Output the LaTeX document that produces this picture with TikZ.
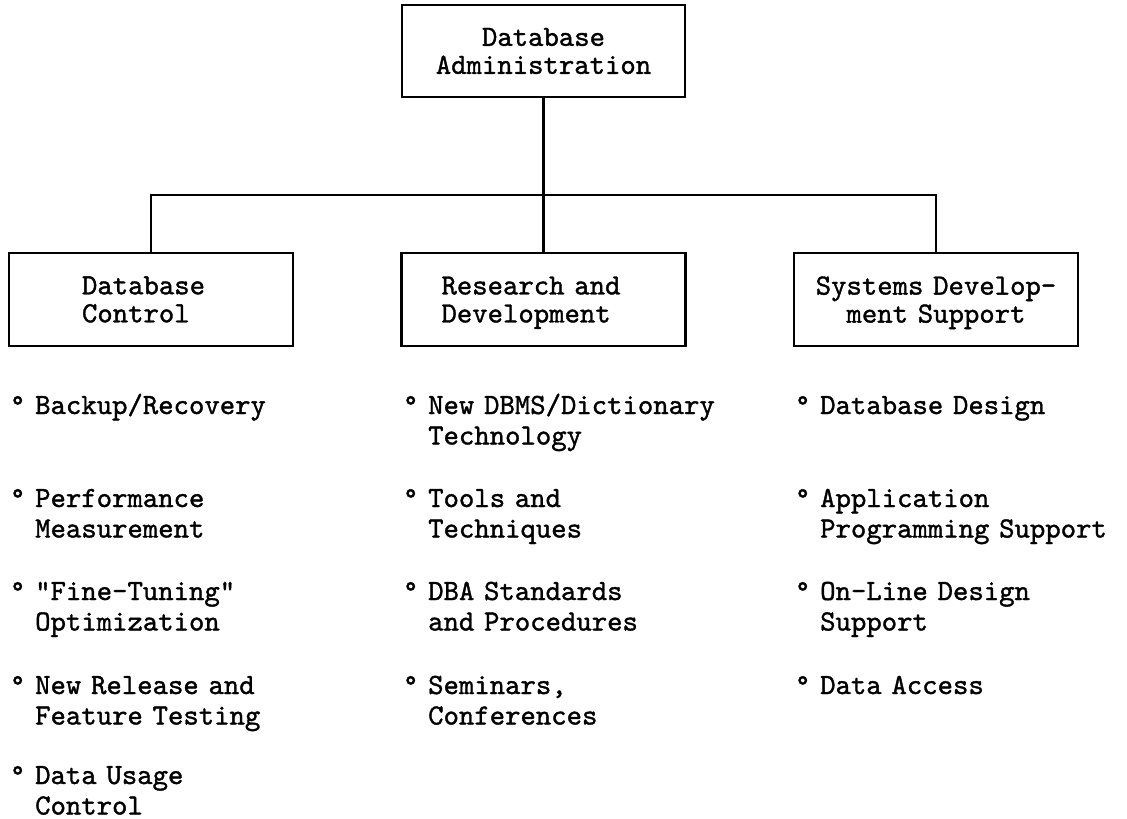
\documentclass[tikz,border=0pt]{standalone}
\usepackage{fontspec}
\newfontfamily\typewriter{lmmono10-regular.otf}[FakeBold=1.2]
\newcommand\itembul{\leavevmode\llap{\textdegree\ }}
\begin{document}
\begin{tikzpicture}[x=1pt,y=-1pt,
  tt/.style={font=\typewriter\fontsize{29.3}{28}\selectfont},
  orgbox/.style={draw, line width=2.6pt, inner sep=0pt, minimum height=93pt, tt},
  link/.style={line width=2.3pt},
  entry/.style={anchor=base west, inner sep=0pt, text width=320pt, align=left,
    font=\typewriter\fontsize{29.3}{30.5}\selectfont}]
\useasboundingbox (0,0) rectangle (1127,819);

% top unit
\node[orgbox, text width=283pt, minimum height=92pt, align=center] (dba) at (543.5,51)
  {Database\\Administration};

% three sections
\node[orgbox, text width=284pt, align=left] (dc) at (151,299.5)
  {\hspace*{73pt}Database\\\hspace*{73pt}Control};
\node[orgbox, text width=284pt, align=left] (rd) at (543.5,299.5)
  {\hspace*{40pt}Research and\\\hspace*{40pt}\smash{Development}};
\node[orgbox, text width=284pt, align=center] (sd) at (936,299.5)
  {Systems Develop-\\\smash{ment Support}};

% connectors
\coordinate (bus) at (543.5,195);
\draw[link] (dba.south) -- (bus);
\draw[link] (dc.north) |- (bus) -| (sd.north);
\draw[link] (bus) -- (rd.north);

% Database Control duties
\node[entry] (dc1) at (35,414) {\itembul Backup/Recovery};
\node[entry] (dc2) at (35,507) {\itembul Performance\\Measurement};
\node[entry] (dc3) at (35,600) {\itembul "Fine-Tuning"\\Optimization};
\node[entry] (dc4) at (35,694) {\itembul New Release and\\Feature Testing};
\node[entry] (dc5) at (35,784) {\itembul Data Usage\\Control};

% Research and Development duties
\node[entry] (rd1) at (428,414) {\itembul New DBMS/Dictionary\\Technology};
\node[entry] (rd2) at (428,507) {\itembul Tools and\\Techniques};
\node[entry] (rd3) at (428,600) {\itembul DBA Standards\\and Procedures};
\node[entry] (rd4) at (428,694) {\itembul Seminars,\\Conferences};

% Systems Development Support duties
\node[entry] (sd1) at (820,414) {\itembul Database Design};
\node[entry] (sd2) at (820,507) {\itembul Application\\Programming Support};
\node[entry] (sd3) at (820,600) {\itembul On-Line Design\\Support};
\node[entry] (sd4) at (820,694) {\itembul Data Access};
\end{tikzpicture}
\end{document}
